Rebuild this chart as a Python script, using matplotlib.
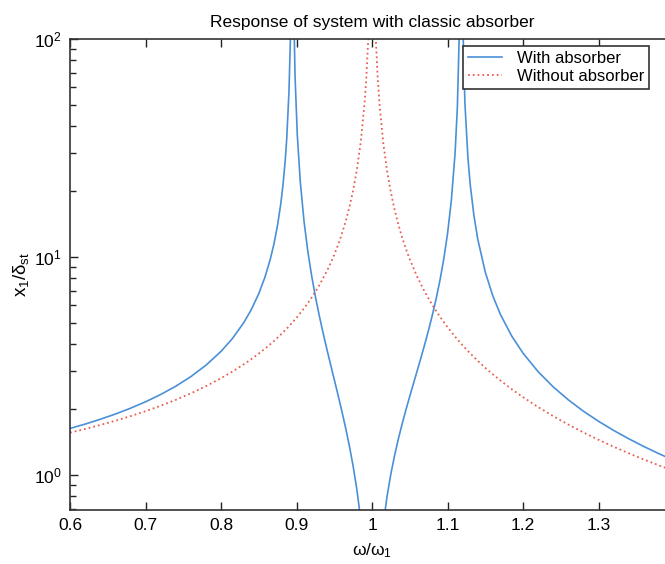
import numpy as np
import matplotlib
matplotlib.use('Agg')
import matplotlib.pyplot as plt

plt.rcParams['font.family'] = ['Liberation Sans', 'DejaVu Sans']
plt.rcParams['mathtext.fontset'] = 'custom'
plt.rcParams['mathtext.rm'] = 'Liberation Sans'
plt.rcParams['mathtext.it'] = 'Liberation Sans'

# ---------------- data ----------------
r_with = [0.60, 0.62, 0.64, 0.66, 0.68, 0.70, 0.72, 0.74, 0.76, 0.78, 0.80,
          0.815, 0.83, 0.84, 0.85, 0.858, 0.865, 0.870, 0.875, 0.879, 0.882,
          0.885, 0.887, 0.890, 0.892, 0.894, 0.896, 0.898, 0.901, 0.905, 0.91,
          0.915, 0.92, 0.925, 0.93, 0.935, 0.94, 0.945, 0.95, 0.955, 0.96,
          0.965, 0.97, 0.975, 0.98, 0.985, 0.99,
          1.01, 1.015, 1.02, 1.025, 1.03, 1.035, 1.04, 1.045, 1.05, 1.055,
          1.06, 1.065, 1.07, 1.075, 1.08, 1.085, 1.09, 1.095, 1.10, 1.105,
          1.11, 1.113, 1.116, 1.1175, 1.12, 1.123, 1.127, 1.13, 1.135, 1.14,
          1.15, 1.16, 1.17, 1.185, 1.20, 1.22, 1.24, 1.26, 1.28, 1.30, 1.32,
          1.34, 1.36, 1.38, 1.40]
x1_with = [1.634, 1.711, 1.800, 1.902, 2.022, 2.165, 2.338, 2.552, 2.825, 3.186,
           3.689, 4.222, 4.991, 5.729, 6.788, 8.044, 9.692, 11.44, 14.08, 17.41,
           21.31, 27.69, 34.79, 57.48, 103.7, 583.6, 156.6, 68.14, 36.40, 22.07,
           14.50, 10.59, 8.202, 6.581, 5.406, 4.509, 3.800, 3.221, 2.737, 2.324,
           1.963, 1.644, 1.357, 1.095, 0.8525, 0.6252, 0.4094,
           0.3972, 0.5974, 0.8018, 1.0131, 1.234, 1.469, 1.721, 1.995, 2.297,
           2.636, 3.022, 3.469, 3.997, 4.637, 5.433, 6.456, 7.830, 9.785, 12.80,
           18.12, 30.01, 48.46, 121.3, 464.0, 127.3, 50.88, 28.54, 21.58, 15.44,
           12.09, 8.514, 6.626, 5.454, 4.338, 3.618, 2.976, 2.534, 2.210, 1.960,
           1.762, 1.600, 1.465, 1.350, 1.251, 1.166]

r_without = [0.60, 0.62, 0.64, 0.66, 0.68, 0.70, 0.72, 0.74, 0.76, 0.78, 0.80,
             0.815, 0.83, 0.84, 0.85, 0.86, 0.87, 0.88, 0.89, 0.90, 0.91, 0.92,
             0.93, 0.94, 0.945, 0.95, 0.955, 0.96, 0.965, 0.97, 0.975, 0.98,
             0.985, 0.99, 0.9925, 0.995, 0.998, 1.002, 1.005, 1.0075, 1.01,
             1.015, 1.02, 1.025, 1.03, 1.035, 1.04, 1.045, 1.05, 1.06, 1.07,
             1.08, 1.09, 1.10, 1.11, 1.12, 1.13, 1.14, 1.15, 1.16, 1.17, 1.185,
             1.20, 1.22, 1.24, 1.26, 1.28, 1.30, 1.32, 1.34, 1.36, 1.38, 1.40]
x1_without = [1.5625, 1.624, 1.694, 1.772, 1.860, 1.961, 2.076, 2.210, 2.367,
              2.554, 2.778, 2.978, 3.214, 3.397, 3.604, 3.840, 4.113, 4.433,
              4.810, 5.263, 5.817, 6.510, 7.402, 8.591, 9.348, 10.256, 11.37,
              12.755, 14.54, 16.92, 20.25, 25.25, 33.59, 50.25, 66.92, 100.25,
              250.3, 249.8, 99.75, 66.42, 49.75, 33.08, 24.75, 19.75, 16.42,
              14.04, 12.255, 10.87, 9.756, 8.091, 6.901, 6.010, 5.316, 4.762,
              4.308, 3.931, 3.613, 3.338, 3.101, 2.894, 2.711, 2.474, 2.273,
              2.048, 1.860, 1.702, 1.566, 1.449, 1.347, 1.257, 1.177, 1.106,
              1.042]

xticks = [0.6, 0.7, 0.8, 0.9, 1.0, 1.1, 1.2, 1.3]
xticklabels = ['0.6', '0.7', '0.8', '0.9', '1', '1.1', '1.2', '1.3']

# ---------------- figure ----------------
fig = plt.figure(figsize=(6.65, 5.64), dpi=100)
ax = fig.add_axes([0.1053, 0.0957, 0.9083, 0.835])   # right edge runs past the picture

ax.plot(r_with, x1_with, '-', color='#4a90d8', linewidth=1.2, label='With absorber')
ax.plot(r_without, x1_without, ':', color='#e8604f', linewidth=1.3, label='Without absorber')

ax.set_yscale('log')
ax.set_xlim(0.6, 1.4)
ax.set_ylim(0.69, 100)
ax.set_xticks(xticks)
ax.set_xticklabels(xticklabels)
ax.minorticks_off()
ax.set_yticks([1, 10, 100])
ax.yaxis.set_minor_locator(matplotlib.ticker.LogLocator(base=10, subs=np.arange(2, 10)))
ax.yaxis.set_minor_formatter(matplotlib.ticker.NullFormatter())

ax.tick_params(which='both', direction='in', top=True, right=True, colors='#222222',
               labelcolor='black', labelsize=12.5)
ax.tick_params(which='major', length=6, width=1, pad=6)
ax.tick_params(which='minor', length=4, width=1)
for sp in ax.spines.values():
    sp.set_color('#333333')
    sp.set_linewidth(1.2)

ax.set_title('Response of system with classic absorber', fontsize=12.5, pad=9)
ax.set_xlabel(r'$\omega/\omega_1$', fontsize=12.5, labelpad=6)
ax.set_ylabel(r'$x_1/\delta_{st}$', fontsize=13.5, labelpad=2)

leg = ax.legend(loc='upper left', bbox_to_anchor=(0.651, 0.985), borderaxespad=0,
                fontsize=12, fancybox=False, framealpha=1, edgecolor='#333333',
                handlelength=2.0, labelspacing=0.15, borderpad=0.3, handletextpad=0.9)
leg.get_frame().set_linewidth(1.2)

fig.savefig('out.png', dpi=100)
